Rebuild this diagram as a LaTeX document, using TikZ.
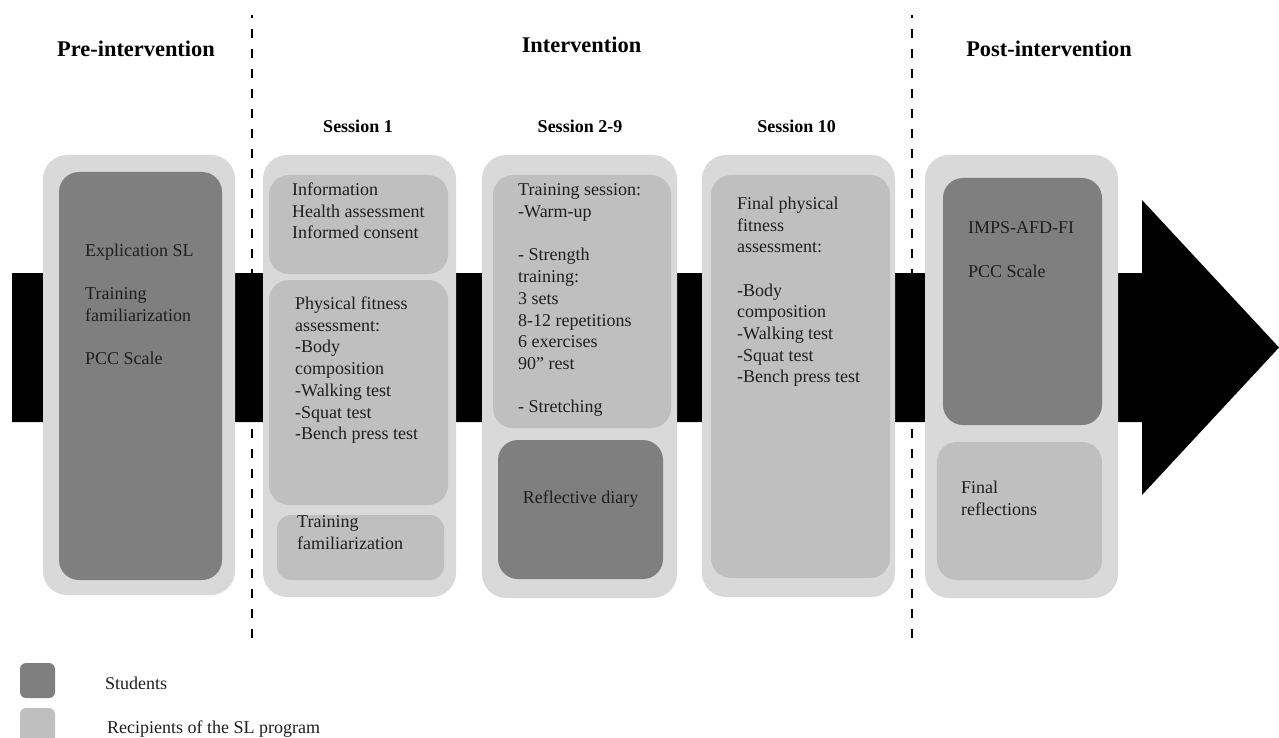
\documentclass[tikz,border=0pt]{standalone}
\usepackage{fontspec}
\setmainfont{Liberation Serif}

\definecolor{boxouter}{HTML}{D9D9D9}
\definecolor{boxlight}{HTML}{BFBFBF}
\definecolor{boxdark}{HTML}{7F7F7F}
\definecolor{inktext}{HTML}{1E1E1E}

\tikzset{
  outerbox/.style={rectangle, fill=boxouter, rounded corners=24pt},
  lightbox/.style={rectangle, fill=boxlight, rounded corners=20pt},
  darkbox/.style={rectangle, fill=boxdark, rounded corners=20pt},
  body/.style={font=\fontsize{18}{21.7}\selectfont, align=left, inner sep=0pt, text=inktext},
  phase/.style={font=\fontsize{22.4}{26}\selectfont\bfseries, inner sep=0pt, anchor=base},
  session/.style={font=\fontsize{18}{21}\selectfont\bfseries, inner sep=0pt, anchor=base},
  keybox/.style={rectangle, minimum size=35pt, rounded corners=6pt},
}

\begin{document}
\begin{tikzpicture}[x=1pt, y=-1pt]
  \useasboundingbox (0,0) rectangle (1279,738);

  % 1. timeline arrow (behind everything)
  \fill[black] (12,273) -- (1142,273) -- (1142,200) -- (1279,347.5)
    -- (1142,495) -- (1142,422) -- (12,422) -- cycle;

  % 2. phase separators
  \draw[line width=2.5pt, dash pattern=on 9pt off 11pt, dash phase=6pt] (252,15) -- (252,642);
  \draw[line width=2.5pt, dash pattern=on 9pt off 11pt, dash phase=6pt] (912,15) -- (912,642);

  % 3. headings
  \node[phase] (hpre) at (136,57) {Pre-intervention};
  \node[phase] (hint) at (581.5,53) {Intervention};
  \node[phase] (hpost) at (1049,57) {Post-intervention};
  \node[session] (hs1) at (358,133) {Session 1};
  \node[session] (hs2) at (580,133) {Session 2-9};
  \node[session] (hs10) at (796.5,133) {Session 10};

  % 4. pre-intervention
  \node[outerbox, minimum width=192pt, minimum height=440pt] (pre) at (139,375) {};
  \node[darkbox, minimum width=163pt, minimum height=408pt] (preIn) at (140.5,376) {};
  \node[body, anchor=north west] (preTxt) at (85,243.7)
    {Explication SL\\[21.7pt]Training\\familiarization\\[21.7pt]PCC Scale};

  % 5. session 1
  \node[outerbox, minimum width=193pt, minimum height=442pt] (s1) at (359.5,376) {};
  \node[lightbox, minimum width=179pt, minimum height=99pt] (s1info) at (358.5,224.5) {};
  \node[lightbox, minimum width=179pt, minimum height=225pt] (s1fit) at (358.5,392.5) {};
  \node[lightbox, minimum width=167pt, minimum height=65pt, rounded corners=14pt] (s1fam) at (360.5,547.5) {};
  \node[body, anchor=north west] (s1infoTxt) at (292,182.7)
    {Information\\Health assessment\\Informed consent};
  \node[body, anchor=north west] (s1fitTxt) at (295,296.7)
    {Physical fitness\\assessment:\\-Body\\composition\\-Walking test\\-Squat test\\-Bench press test};
  \node[body, anchor=north west] (s1famTxt) at (297,515.7)
    {Training\\familiarization};

  % 6. sessions 2-9
  \node[outerbox, minimum width=195pt, minimum height=443pt] (s2) at (579.5,376.5) {};
  \node[lightbox, minimum width=178pt, minimum height=253pt] (s2train) at (582,301.5) {};
  \node[darkbox, minimum width=165pt, minimum height=139pt] (s2diary) at (580.5,509.5) {};
  \node[body, anchor=north west] (s2trainTxt) at (518,183.7)
    {Training session:\\-Warm-up\\[21.7pt]- Strength\\training:\\3 sets\\8-12 repetitions\\6 exercises\\90” rest\\[21.7pt]- Stretching};
  \node[body, anchor=base] (s2diaryTxt) at (580.5,503) {Reflective diary};

  % 7. session 10
  \node[outerbox, minimum width=193pt, minimum height=442pt] (s10) at (798.5,376) {};
  \node[lightbox, minimum width=179pt, minimum height=403pt] (s10fit) at (800.5,376.5) {};
  \node[body, anchor=north west] (s10fitTxt) at (737,196.7)
    {Final physical\\fitness\\assessment:\\[21.7pt]-Body\\composition\\-Walking test\\-Squat test\\-Bench press test};

  % 8. post-intervention
  \node[outerbox, minimum width=193pt, minimum height=443pt] (post) at (1021.5,376.5) {};
  \node[darkbox, minimum width=159pt, minimum height=247pt] (postImps) at (1022.5,301.5) {};
  \node[lightbox, minimum width=165pt, minimum height=138pt] (postRefl) at (1019.5,511) {};
  \node[body, anchor=north west] (postImpsTxt) at (968,221.7)
    {IMPS-AFD-FI\\[21.7pt]PCC Scale};
  \node[body, anchor=north west] (postReflTxt) at (961,480.7)
    {Final\\reflections};

  % 9. legend
  \node[keybox, fill=boxdark] (keyStud) at (37.5,680.5) {};
  \node[keybox, fill=boxlight] (keyRec) at (37.5,725.5) {};
  \node[body, anchor=base west] (keyStudTxt) at (105,689) {Students};
  \node[body, anchor=base west] (keyRecTxt) at (107,733) {Recipients of the SL program};

\end{tikzpicture}
\end{document}
